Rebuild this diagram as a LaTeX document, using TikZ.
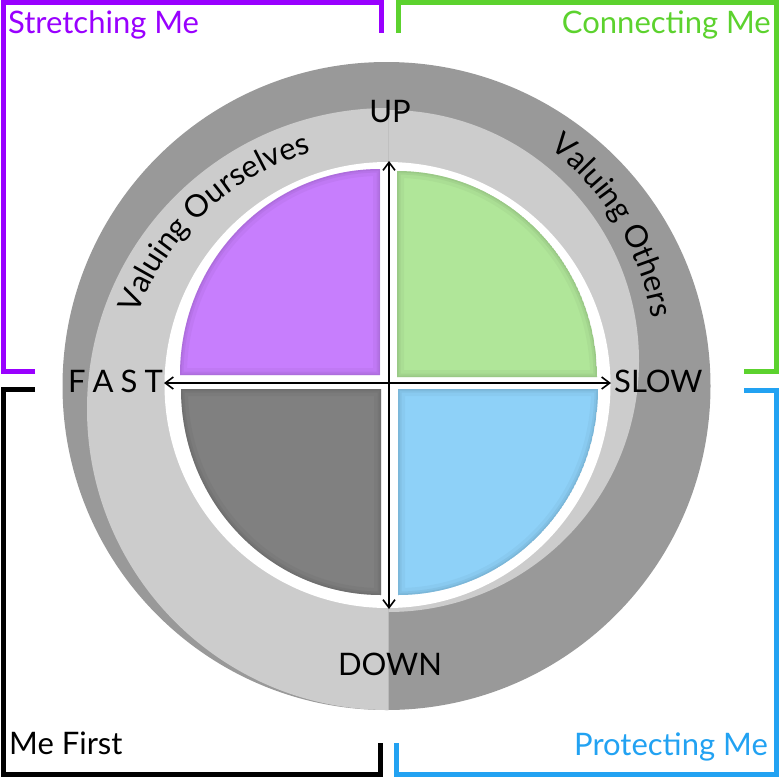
\documentclass[tikz,border=0pt]{standalone}
\usepackage{fontspec}
\setmainfont{Lato}
\usetikzlibrary{arrows.meta,decorations.text}

\definecolor{ringdark}{HTML}{999999}
\definecolor{ringlight}{HTML}{CCCCCC}
\definecolor{qpurple}{HTML}{C77EFD}
\definecolor{qgreen}{HTML}{B0E699}
\definecolor{qgray}{HTML}{808080}
\definecolor{qblue}{HTML}{8ED1F8}
\definecolor{cpurple}{HTML}{9900FF}
\definecolor{cgreen}{HTML}{5CD22E}
\definecolor{cblue}{HTML}{22A2F2}

\tikzset{
  bracket/.style={line width=5pt, line join=miter},
  lbl/.style={inner sep=0pt, font=\fontsize{31}{36}\selectfont},
  axisline/.style={line width=2pt,
    {Straight Barb[length=8pt,width=12pt,line width=1.6pt]}-{Straight Barb[length=8pt,width=12pt,line width=1.6pt]}},
  ringtext/.style={decorate, decoration={text along path, text align=center,
    text={|\fontsize{31}{34}\selectfont|#1}}},
}

% one pie quarter with a soft inner rim
\newcommand\pieshape[2]{%
  \begin{scope}
    \clip #2;
    \fill[#1] #2;
    \draw[#1!55!black, opacity=.07, line width=14pt] #2;
    \draw[#1!55!black, opacity=.10, line width=7pt] #2;
    \draw[#1!55!black, opacity=.12, line width=3pt] #2;
  \end{scope}}

\begin{document}
\begin{tikzpicture}[x=1pt, y=-1pt]
  \useasboundingbox (0,0) rectangle (779,777);

  % outer dark disk
  \fill[ringdark] (386.5,386) circle[radius=324];
  % light half discs
  \begin{scope}
    \clip (0,0) rectangle (388.5,777);
    \fill[ringlight] (388,409) circle[radius=301];
  \end{scope}
  \begin{scope}
    \clip (388.5,0) rectangle (779,777);
    \fill[ringlight] (388,361) circle[radius=251];
  \end{scope}
  % white inner disk
  \fill[white] (387.5,385) circle[radius=223];

  % four quarters
  \pieshape{qpurple}{{(380,375) -- ++(-200,0) arc[start angle=180, end angle=270, x radius=200, y radius=206] -- cycle}}
  \pieshape{qgreen}{{(397,377) -- ++(0,-206) arc[start angle=270, end angle=360, x radius=200, y radius=206] -- cycle}}
  \pieshape{qgray}{{(381,389) -- ++(-200,0) arc[start angle=180, end angle=90, x radius=200, y radius=206] -- cycle}}
  \pieshape{qblue}{{(398,389) -- ++(200,0) arc[start angle=0, end angle=90, x radius=200, y radius=206] -- cycle}}

  % axes
  \coordinate (upend) at (389,161);
  \coordinate (downend) at (389,609);
  \coordinate (fastend) at (164,383);
  \coordinate (slowend) at (611,383);
  \draw[axisline] (downend) -- (upend);
  \draw[axisline] (fastend) -- (slowend);

  % axis labels
  \node[lbl, anchor=base] (up) at (390,122) {UP};
  \node[lbl, anchor=base] (down) at (390,675) {DOWN};
  \node[lbl, anchor=base west] (fast) at (68,392) {F\kern7pt A\kern7pt S\kern7pt T};
  \node[lbl, anchor=base west] (slow) at (614,392) {SLOW};

  % ring texts
  \path[ringtext={Valuing Ourselves}] (388,409) ++(-174:268)
    arc[start angle=-174, end angle=-92, radius=268];
  \path[ringtext={Valuing Others}] (388,361) ++(-71:267)
    arc[start angle=-71, end angle=9, radius=267];

  % corner brackets
  \draw[bracket, cpurple] (35,371) -- (3,371) -- (3,2.5) -- (381.5,2.5) -- (381.5,33);
  \draw[bracket, cgreen] (398,33) -- (398,2.5) -- (776,2.5) -- (776,371) -- (744,371);
  \draw[bracket, black] (35,389) -- (3,389) -- (3,774.5) -- (380.5,774.5) -- (380.5,743);
  \draw[bracket, cblue] (744,390.5) -- (776,390.5) -- (776,774.5) -- (396.5,774.5) -- (396.5,743);

  % corner labels
  \node[lbl, anchor=base west, text=cpurple] (stretch) at (8,33) {Stretching Me};
  \node[lbl, anchor=base east, text=cgreen] (connect) at (771,33) {Connecting Me};
  \node[lbl, anchor=base west, text=black] (mefirst) at (9,754) {Me First};
  \node[lbl, anchor=base east, text=cblue] (protect) at (768,755) {Protecting Me};
\end{tikzpicture}
\end{document}
